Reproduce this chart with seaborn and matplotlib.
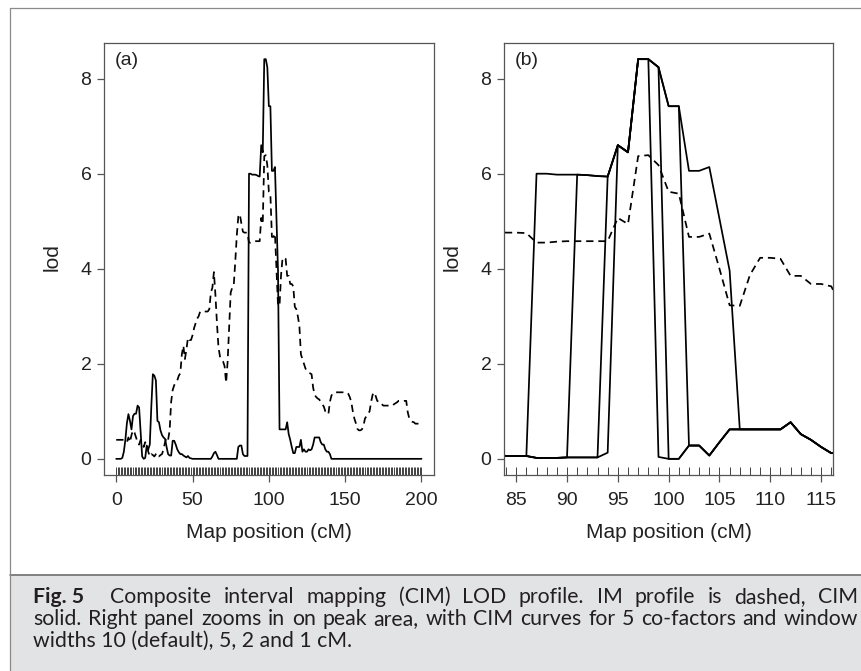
import matplotlib
matplotlib.use("Agg")
import matplotlib.pyplot as plt
from matplotlib.lines import Line2D
from matplotlib.patches import Rectangle
import pandas as pd
import seaborn as sns

# ---- data -------------------------------------------------------------
# marker grid (cM), one marker per cM
pos_cm = list(range(0, 201))

# interval mapping (IM) LOD profile
im_lod = [
    0.40, 0.40, 0.40, 0.40, 0.40, 0.40, 0.38, 0.35, 0.45, 0.35,
    0.50, 0.60, 0.55, 0.45, 0.35, 0.30, 0.40, 0.35, 0.25, 0.35,
    0.30, 0.15, 0.05, 0.10, 0.08, 0.05, 0.10, 0.12, 0.05, 0.08,
    0.10, 0.20, 0.35, 0.45, 0.40, 0.60, 1.20, 1.45, 1.55, 1.60,
    1.65, 1.75, 1.80, 2.20, 2.38, 2.10, 2.30, 2.55, 2.50, 2.50,
    2.60, 2.75, 2.85, 2.95, 3.00, 3.10, 3.10, 3.10, 3.10, 3.10,
    3.10, 3.15, 3.50, 3.60, 3.93, 3.45, 2.85, 2.35, 2.15, 2.10,
    2.05, 1.95, 1.60, 2.05, 2.80, 3.50, 3.60, 3.65, 4.15, 4.70,
    5.10, 5.15, 4.95, 4.78, 4.76, 4.76, 4.75, 4.55, 4.55, 4.57,
    4.58, 4.58, 4.58, 4.58, 4.58, 5.07, 4.94, 6.37, 6.39, 6.18,
    5.62, 5.58, 4.67, 4.67, 4.74, 4.00, 3.23, 3.22, 3.87, 4.23,
    4.23, 4.21, 3.85, 3.85, 3.68, 3.68, 3.63, 3.20, 3.15, 3.00,
    2.80, 2.20, 2.10, 2.00, 1.90, 1.85, 1.82, 1.80, 1.78, 1.50,
    1.35, 1.30, 1.27, 1.25, 1.20, 1.15, 1.10, 1.00, 0.95, 0.94,
    1.20, 1.33, 1.38, 1.40, 1.40, 1.40, 1.40, 1.40, 1.40, 1.40,
    1.40, 1.40, 1.37, 1.30, 1.20, 1.00, 0.85, 0.75, 0.63, 0.60,
    0.60, 0.62, 0.70, 0.85, 0.90, 0.95, 1.00, 1.20, 1.35, 1.40,
    1.32, 1.22, 1.20, 1.20, 1.15, 1.12, 1.12, 1.12, 1.12, 1.12,
    1.12, 1.12, 1.15, 1.17, 1.19, 1.22, 1.22, 1.22, 1.22, 1.22,
    1.22, 0.98, 0.85, 0.80, 0.78, 0.77, 0.74, 0.74, 0.74, 0.74,
    0.74,
]

# composite interval mapping, 5 co-factors, window 10 cM (default)
cim_w10 = [
    0.00, 0.00, 0.00, 0.00, 0.02, 0.15, 0.40, 0.75, 0.94, 0.80,
    0.62, 0.90, 0.95, 0.95, 1.12, 1.08, 0.55, 0.05, 0.00, 0.02,
    0.28, 0.20, 0.30, 1.10, 1.78, 1.75, 1.65, 0.80, 0.77, 0.60,
    0.50, 0.45, 0.42, 0.25, 0.10, 0.07, 0.07, 0.38, 0.38, 0.30,
    0.20, 0.14, 0.10, 0.10, 0.07, 0.05, 0.03, 0.06, 0.02, 0.01,
    0.00, 0.00, 0.00, 0.00, 0.00, 0.00, 0.00, 0.00, 0.00, 0.00,
    0.00, 0.00, 0.00, 0.05, 0.12, 0.15, 0.08, 0.00, 0.00, 0.00,
    0.00, 0.00, 0.00, 0.00, 0.00, 0.00, 0.00, 0.00, 0.00, 0.00,
    0.25, 0.28, 0.28, 0.10, 0.06, 0.06, 0.06, 6.00, 6.00, 5.98,
    5.98, 5.98, 5.97, 5.95, 5.94, 6.60, 6.45, 8.41, 8.41, 8.24,
    7.42, 7.42, 6.06, 6.06, 6.14, 5.05, 3.96, 0.62, 0.62, 0.62,
    0.62, 0.62, 0.77, 0.52, 0.40, 0.25, 0.12, 0.12, 0.25, 0.25,
    0.25, 0.40, 0.15, 0.20, 0.15, 0.15, 0.20, 0.18, 0.20, 0.30,
    0.45, 0.45, 0.45, 0.45, 0.35, 0.30, 0.30, 0.20, 0.15, 0.15,
    0.10, 0.00, 0.00, 0.00, 0.00, 0.00, 0.00, 0.00, 0.00, 0.00,
    0.00, 0.00, 0.00, 0.00, 0.00, 0.00, 0.00, 0.00, 0.00, 0.00,
    0.00, 0.00, 0.00, 0.00, 0.00, 0.00, 0.00, 0.00, 0.00, 0.00,
    0.00, 0.00, 0.00, 0.00, 0.00, 0.00, 0.00, 0.00, 0.00, 0.00,
    0.00, 0.00, 0.00, 0.00, 0.00, 0.00, 0.00, 0.00, 0.00, 0.00,
    0.00, 0.00, 0.00, 0.00, 0.00, 0.00, 0.00, 0.00, 0.00, 0.00,
    0.00,
]

# peak region, CIM with narrower windows (5, 2 and 1 cM)
pos_peak = list(range(83, 118))
cim_w5 = [
    0.10, 0.06, 0.06, 0.06, 0.02, 0.02, 0.02, 0.03,
    5.98, 5.97, 5.95, 5.94, 6.60, 6.45, 8.41, 8.41, 8.24, 7.42, 7.42,
    0.28, 0.28, 0.07, 0.35, 0.62, 0.62, 0.62, 0.62, 0.62, 0.62,
    0.77, 0.52, 0.40, 0.25, 0.12, 0.12,
]
cim_w2 = [
    0.10, 0.06, 0.06, 0.06, 0.02, 0.02, 0.02, 0.03, 0.03, 0.03, 0.03,
    5.94, 6.60, 6.45, 8.41, 8.41, 8.24,
    0.00, 0.00, 0.28, 0.28, 0.07, 0.35, 0.62, 0.62, 0.62, 0.62, 0.62, 0.62,
    0.77, 0.52, 0.40, 0.25, 0.12, 0.12,
]
cim_w1 = [
    0.10, 0.06, 0.06, 0.06, 0.02, 0.02, 0.02, 0.03, 0.03, 0.03, 0.03, 0.13,
    6.60, 6.45, 8.41, 8.41,
    0.04, 0.00, 0.00, 0.28, 0.28, 0.07, 0.35, 0.62, 0.62, 0.62, 0.62, 0.62, 0.62,
    0.77, 0.52, 0.40, 0.25, 0.12, 0.12,
]

xticks_full = [0, 50, 100, 150, 200]
xticks_peak = [85, 90, 95, 100, 105, 110, 115]
yticks = [0, 2, 4, 6, 8]

caption_lines = [
    ["Fig. 5", "Composite", "interval", "mapping", "(CIM)", "LOD", "profile.",
     "IM", "profile", "is", "dashed,", "CIM"],
    ["solid.", "Right", "panel", "zooms", "in", "on", "peak", "area,", "with",
     "CIM", "curves", "for", "5", "co-factors", "and", "window"],
    "widths 10 (default), 5, 2 and 1 cM.",
]

# ---- figure -----------------------------------------------------------
sns.set_theme(style="ticks")
plt.rcParams["font.family"] = ["Liberation Sans", "DejaVu Sans"]

W, H = 862, 671
fig = plt.figure(figsize=(W / 100, H / 100), dpi=100)
fig.patch.set_facecolor("white")


def fx(px):
    return px / W


def fy(py):
    return 1 - py / H


# outer frame and caption box
fig.add_artist(Line2D([fx(10), fx(W + 5)], [fy(8), fy(8)], color="#8a8a8a", lw=0.9))
fig.add_artist(Rectangle((fx(10), 0), fx(W + 5) - fx(10), fy(575), facecolor="#e2e3e5",
                         edgecolor="none"))
fig.add_artist(Line2D([fx(10), fx(W + 5)], [fy(575), fy(575)], color="#6e6e6e", lw=1.2))
fig.add_artist(Line2D([fx(10), fx(10)], [fy(8), 0], color="#8a8a8a", lw=0.9))

top, bottom = 43, 475
ax_a = fig.add_axes([fx(104), fy(bottom), (433.7 - 104) / W, (bottom - top) / H])
ax_b = fig.add_axes([fx(504), fy(bottom), (833.3 - 504) / W, (bottom - top) / H])

df_full = pd.DataFrame({"pos": pos_cm, "im": im_lod, "cim": cim_w10})
df_peak = pd.DataFrame({"pos": pos_peak, "w5": cim_w5, "w2": cim_w2, "w1": cim_w1})

line_kw = dict(color="black", lw=1.25, legend=False, estimator=None)
dash = (0, (4.2, 2.8))

for ax in (ax_a, ax_b):
    sns.lineplot(data=df_full, x="pos", y="im", ax=ax, linestyle=dash, **line_kw)
    sns.lineplot(data=df_full, x="pos", y="cim", ax=ax, **line_kw)
for col in ("w5", "w2", "w1"):
    sns.lineplot(data=df_peak, x="pos", y=col, ax=ax_b, **line_kw)

ax_a.set_xlim(-8, 208)
ax_b.set_xlim(83.8, 116.2)
ax_a.set_xticks(xticks_full)
ax_b.set_xticks(xticks_peak)

for ax, tag in ((ax_a, "(a)"), (ax_b, "(b)")):
    ax.set_ylim(-0.34, 8.75)
    ax.set_yticks(yticks)
    # marker rug along the bottom
    ax.vlines(pos_cm, 0, 0.018, transform=ax.get_xaxis_transform(),
              color="#222222", lw=0.6)
    ax.set_facecolor("white")
    for sp in ax.spines.values():
        sp.set_visible(True)
        sp.set_color("#555555")
        sp.set_linewidth(0.9)
    ax.tick_params(direction="out", length=5, width=0.9, colors="#555555",
                   labelcolor="#222222", labelsize=14, pad=4)
    ax.tick_params(axis="x", pad=7)
    ax.set_xlabel("Map position (cM)", fontsize=15, color="#222222")
    ax.set_ylabel("lod", fontsize=15, color="#222222")
    ax.xaxis.set_label_coords(0.5, -0.134)
    ax.xaxis.label.set_va("center")
    ax.yaxis.set_label_coords(-0.157, 0.505)
    ax.yaxis.label.set_va("center")
    ax.text(0.07, 0.96, tag, transform=ax.transAxes, ha="center", va="center",
            fontsize=14, color="#222222")

# ---- caption (justified) -----------------------------------------------
cap_font = ["Lato", "DejaVu Sans"]
cap_color = "#231f20"
left_px, right_px = 33, 858
baselines = [603, 625, 647]

fig.canvas.draw()
renderer = fig.canvas.get_renderer()


def text_width(s, size, weight="normal"):
    t = fig.text(0, 0, s, fontsize=size, family=cap_font, fontweight=weight)
    w = t.get_window_extent(renderer).width
    t.remove()
    return w


# size the caption so the second line, set with plain spaces, nearly fills the box
base = 13.0
cap_size = base * 805.0 / text_width(" ".join(caption_lines[1]), base)

for i, line in enumerate(caption_lines):
    yb = fy(baselines[i])
    if isinstance(line, str):
        fig.text(fx(left_px), yb, line, fontsize=cap_size, family=cap_font,
                 color=cap_color, va="baseline", ha="left")
        continue
    weights = ["bold" if w == "Fig. 5" else "normal" for w in line]
    widths = [text_width(w, cap_size, wt) for w, wt in zip(line, weights)]
    extra = 14 if line[0] == "Fig. 5" else 0
    gap = (right_px - left_px - sum(widths) - extra) / (len(line) - 1)
    x = left_px
    for w, wt, wd in zip(line, weights, widths):
        fig.text(fx(x), yb, w, fontsize=cap_size, family=cap_font, fontweight=wt,
                 color=cap_color, va="baseline", ha="left")
        x += wd + gap + (extra if w == "Fig. 5" else 0)

fig.savefig("out.png", dpi=100)
